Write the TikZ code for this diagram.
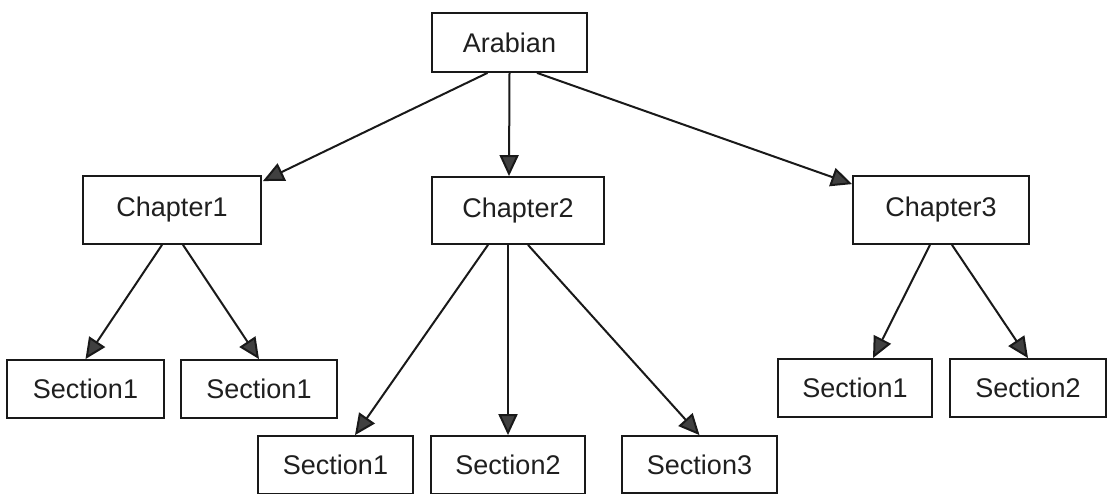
\documentclass[tikz,border=0pt]{standalone}
\usepackage{fontspec}
\setmainfont{Liberation Sans}
\usetikzlibrary{arrows.meta}
\begin{document}
\begin{tikzpicture}[x=1pt,y=-1pt,
  box/.style={draw=black!90, line width=1.8pt, fill=white, inner sep=0pt,
              font=\fontsize{27}{31}\selectfont, text=black!88},
  link/.style={line width=2pt, draw=black!90,
               -{Triangle[length=21pt,width=19pt,fill=black!75]}}]
  \useasboundingbox (0,0) rectangle (1111,494);

  % root
  \node[box, minimum width=155pt, minimum height=59pt] (root) at (509.5,42.5) {Arabian};

  % chapters
  \node[box, minimum width=178pt, minimum height=68pt] (c1) at (172,210) {Chapter1};
  \node[box, minimum width=172pt, minimum height=67pt] (c2) at (518,210.5) {Chapter2};
  \node[box, minimum width=176pt, minimum height=68pt] (c3) at (941,210) {Chapter3};

  % sections of chapter 1
  \node[box, minimum width=157pt, minimum height=58pt] (s11) at (85.5,389) {Section1};
  \node[box, minimum width=156pt, minimum height=58pt] (s12) at (259,389) {Section1};

  % sections of chapter 2
  \node[box, minimum width=155pt, minimum height=58pt] (s21) at (335.5,465) {Section1};
  \node[box, minimum width=154pt, minimum height=58pt] (s22) at (508,465) {Section2};
  \node[box, minimum width=155pt, minimum height=57pt] (s23) at (699.5,464.5) {Section3};

  % sections of chapter 3
  \node[box, minimum width=154pt, minimum height=58pt] (s31) at (855,388) {Section1};
  \node[box, minimum width=156pt, minimum height=58pt] (s32) at (1028,388) {Section2};

  % root to chapters
  \draw[link] ([xshift=-22pt]root.south) -- ([xshift=1pt,yshift=-6pt]c1.north east);
  \draw[link] (root.south) -- ([xshift=-9pt]c2.north);
  \draw[link] ([xshift=27.5pt]root.south) -- ([yshift=-9pt]c3.north west);

  % chapter 1 to sections
  \draw[link] ([xshift=-10pt]c1.south) -- (s11.north);
  \draw[link] ([xshift=11pt]c1.south) -- (s12.north);

  % chapter 2 to sections
  \draw[link] ([xshift=-30pt]c2.south) -- ([xshift=19.5pt]s21.north);
  \draw[link] ([xshift=-10pt]c2.south) -- (s22.north);
  \draw[link] ([xshift=10pt]c2.south) -- (s23.north);

  % chapter 3 to sections
  \draw[link] ([xshift=-11pt]c3.south) -- ([xshift=18pt]s31.north);
  \draw[link] ([xshift=11pt]c3.south) -- (s32.north);
\end{tikzpicture}
\end{document}
